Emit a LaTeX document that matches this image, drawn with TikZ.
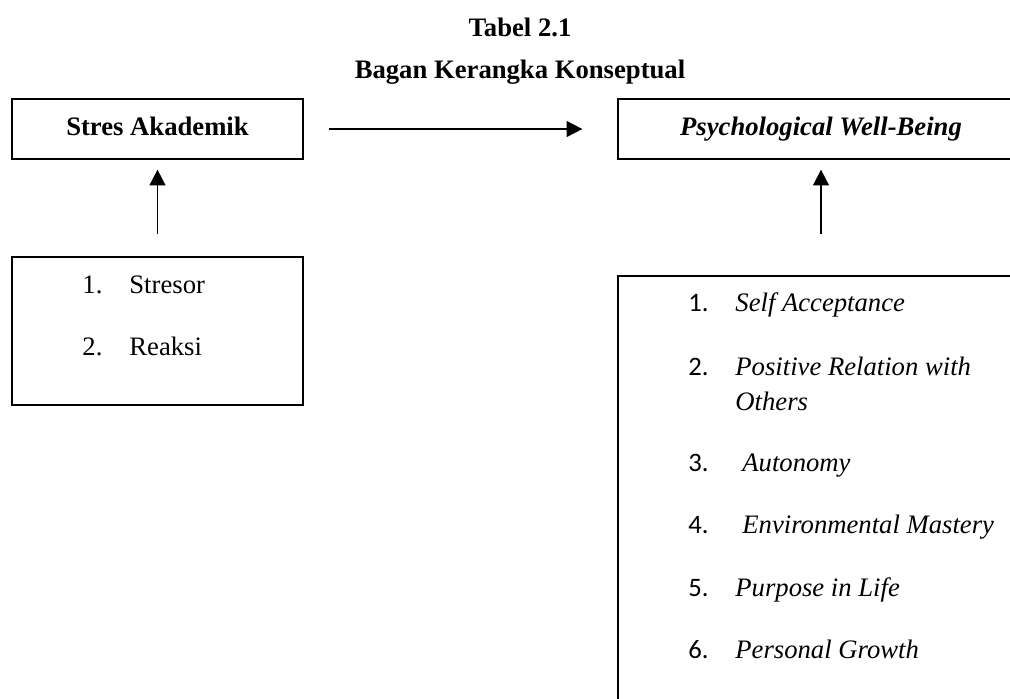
\documentclass[tikz,border=0pt]{standalone}
\usepackage{fontspec}
\setmainfont{Liberation Serif}
\newfontfamily\numfont{Carlito}
\usetikzlibrary{arrows.meta}
\begin{document}
\begin{tikzpicture}[x=0.48pt,y=-0.48pt,>={Triangle[length=7.6pt,width=7.6pt]},font=\fontsize{12.8}{15}\selectfont,
		kotak/.style={draw,line width=0.6pt,minimum height=28.8pt,inner sep=0pt,text height=8.6pt,text depth=2.8pt},
		panah/.style={->,line width=0.85pt},
		butir/.style={anchor=base west,inner sep=0pt}]
	\useasboundingbox (0,0) rectangle (1010,698);
	\node[font=\bfseries\fontsize{12.8}{15}\selectfont] (judul) at (520,27) {Tabel 2.1};
	\node[font=\bfseries\fontsize{12.8}{15}\selectfont] (subjudul) at (520,72) {Bagan Kerangka Konseptual};
	\node[kotak,minimum width=139.68pt] (stres) at (157.5,129) {\textbf{Stres Akademik}};
	\node[kotak,minimum width=194.88pt] (pwb) at (821,129) {\textbf{\textit{Psychological Well-Being}}};
	\node[kotak,minimum width=139.68pt,minimum height=71.04pt] (aspekstres) at (157.5,331) {};
	\node[kotak,minimum width=194.88pt,minimum height=213.12pt] (aspekpwb) at (821,498) {};
	\draw[panah,shorten <=12pt,shorten >=16.8pt] (stres.east) -- (pwb.west);
	\draw[panah,shorten <=10.56pt,shorten >=4.8pt] (aspekstres.north) -- (stres.south);
	\draw[panah,shorten <=19.68pt,shorten >=4.8pt] (aspekpwb.north) -- (pwb.south);
	\node[butir] (na) at (82,293) {1.};
	\node[butir] (sa) at (129,293) {Stresor};
	\node[butir] (nb) at (82,355) {2.};
	\node[butir] (sb) at (129,355) {Reaksi};
	\foreach \i/\y in {1/311,2/375,3/471,4/533,5/596,6/658}
		\node[butir,font=\numfont\fontsize{12.8}{15}\selectfont] (m\i) at (688,\y) {\i.};
	\node[butir] (t1) at (735,311) {\textit{Self Acceptance}};
	\node[butir,align=left,font=\fontsize{12.8}{16.8}\selectfont] (t2) at (735,410) {\textit{Positive Relation with}\\\textit{Others}};
	\node[butir] (t3) at (742,471) {\textit{Autonomy}};
	\node[butir] (t4) at (742,533) {\textit{Environmental Mastery}};
	\node[butir] (t5) at (735,596) {\textit{Purpose in Life}};
	\node[butir] (t6) at (735,658) {\textit{Personal Growth}};
\end{tikzpicture}
\end{document}
